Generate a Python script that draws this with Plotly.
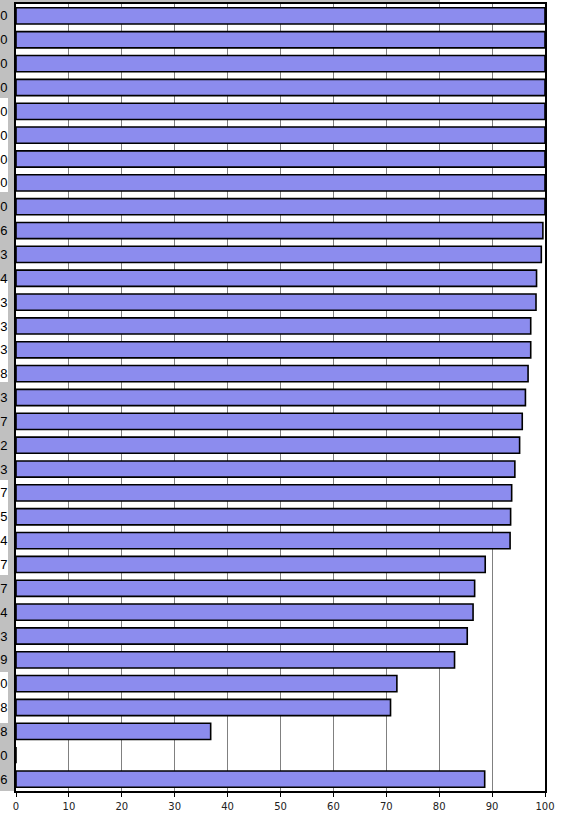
import plotly.graph_objects as go

values = [100.0, 100.0, 100.0, 100.0, 100.0, 100.0, 100.0, 100.0, 100.0,
          99.6, 99.3, 98.4, 98.3, 97.3, 97.3, 96.8, 96.3, 95.7, 95.2, 94.3,
          93.7, 93.5, 93.4, 88.7, 86.7, 86.4, 85.3, 82.9, 72.0, 70.8, 36.8,
          0.0, 88.6]
labels = [f"{v:.1f}" for v in values]
positions = list(range(len(values)))
x_ticks = [0, 10, 20, 30, 40, 50, 60, 70, 80, 90, 100]

W, H = 563, 813
L, R, T, B = 16, 18, 4, 22
PW, PH = W - L - R, H - T - B


def px_x(px):
    return (px - L) / PW


def px_y(py):
    return (H - B - py) / PH


shapes = []
# grey strip on the left (cut-off label column)
shapes.append(dict(type="rect", xref="paper", yref="paper", x0=px_x(0), x1=px_x(16),
                   y0=px_y(791), y1=px_y(0), fillcolor="#c0c0c0", line=dict(width=0), layer="below"))
# grey strip at top
shapes.append(dict(type="rect", xref="paper", yref="paper", x0=px_x(0), x1=px_x(440),
                   y0=px_y(4), y1=px_y(0), fillcolor="#c0c0c0", line=dict(width=0), layer="below"))
# white cell patches
for y0, y1 in [(98, 192), (281, 382), (480, 575), (672, 723)]:
    shapes.append(dict(type="rect", xref="paper", yref="paper", x0=px_x(0), x1=px_x(8),
                       y0=px_y(y1), y1=px_y(y0), fillcolor="white", line=dict(width=0), layer="below"))

fig = go.Figure(go.Bar(
    x=values, y=positions, orientation="h", width=0.68,
    marker=dict(color="#8c8cee", line=dict(color="black", width=1.6)),
    hoverinfo="x",
))

fig.update_layout(
    width=W, height=H,
    margin=dict(l=L, r=R, t=T, b=B, pad=0, autoexpand=False),
    paper_bgcolor="white", plot_bgcolor="white",
    showlegend=False,
    shapes=shapes,
)
fig.update_xaxes(
    range=[0, 100], tickvals=x_ticks, ticktext=[str(t) for t in x_ticks],
    showgrid=True, gridcolor="#808080", gridwidth=1,
    showline=True, linecolor="black", linewidth=2, mirror=True,
    ticks="outside", ticklen=4, tickcolor="black", tickwidth=1,
    ticklabelstandoff=1,
    tickfont=dict(family="DejaVu Sans, Verdana", size=10, color="#222"),
    zeroline=False, fixedrange=True, automargin=False,
)
fig.update_yaxes(
    range=[len(values) - 0.5, -0.5], tickvals=positions, ticktext=labels,
    showgrid=False, showline=True, linecolor="black", linewidth=2, mirror=True,
    ticks="", ticklabelstandoff=4,
    tickfont=dict(family="Liberation Sans, Arial", size=13, color="black"),
    zeroline=False, fixedrange=True, automargin=False,
)

fig.write_html("out.html", config={"displayModeBar": False},
               post_script="document.body.style.margin='0';document.body.style.overflow='hidden';")
